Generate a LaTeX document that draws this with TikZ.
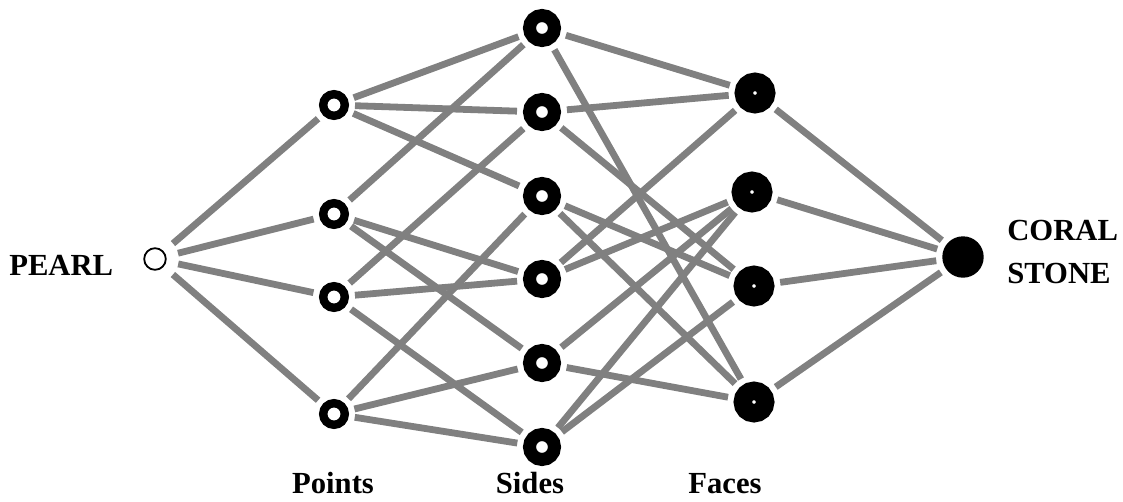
\documentclass[tikz,border=0pt]{standalone}
\usepackage{fontspec}
\setmainfont{Liberation Serif}
\usetikzlibrary{positioning}

\begin{document}
\begin{tikzpicture}[x=0.025cm, y=-0.025cm,
    every node/.style={circle, inner sep=0pt},
    bottom/.style={draw=black, line width=0.045cm, fill=white, minimum size=0.54cm},
    point/.style={draw=black, line width=0.21cm, fill=white, minimum size=0.54cm},
    side/.style={draw=black, line width=0.325cm, fill=white, minimum size=0.625cm},
    face/.style={draw=black, line width=0.46cm, fill=white, minimum size=0.56cm},
    top/.style={fill=black, minimum size=1.035cm},
    caption/.style={rectangle, font=\bfseries\fontsize{21.8}{25}\selectfont},
    link/.style={draw=gray, line width=0.17cm, shorten >=0.15cm, shorten <=0.15cm}]
    \useasboundingbox (0,0) rectangle (1123,501);

    % ranks of the lattice
    \node[bottom] (pearl) at (155,259) {};
    \foreach \i/\y in {1/105,2/214,3/297,4/414}
        \node[point] (p\i) at (334,\y) {};
    \foreach \i/\y in {1/28,2/112,3/196,4/279,5/363,6/447}
        \node[side] (s\i) at (542,\y) {};
    \foreach \i/\x/\y in {1/755/93,2/752/192,3/754/286,4/754/402}
        \node[face] (f\i) at (\x,\y) {};
    \node[top] (coral) at (963,257) {};

    % covering relations
    \foreach \i in {1,...,4}
        \draw[link, shorten <=0.3cm] (pearl) -- (p\i);
    \foreach \a/\b in {1/1,1/2,1/3,2/1,2/4,2/5,3/2,3/4,3/6,4/3,4/5,4/6}
        \draw[link] (p\a) -- (s\b);
    \foreach \a/\b in {1/1,2/1,4/1,4/2,5/2,6/2,2/3,3/3,6/3,1/4,3/4,5/4}
        \draw[link] (s\a) -- (f\b);
    \foreach \i in {1,...,4}
        \draw[link] (f\i) -- (coral);

    % captions
    \node[caption, anchor=base west] (pearltext) at (9,275) {PEARL};
    \node[caption, anchor=base west] (coraltext) at (1007,240) {CORAL};
    \node[caption, anchor=base west] (stonetext) at (1007,283) {STONE};
    \node[caption, anchor=base] (pointstext) at (333,493) {Points};
    \node[caption, anchor=base] (sidestext) at (530,493) {Sides};
    \node[caption, anchor=base] (facestext) at (725,493) {Faces};
\end{tikzpicture}
\end{document}
